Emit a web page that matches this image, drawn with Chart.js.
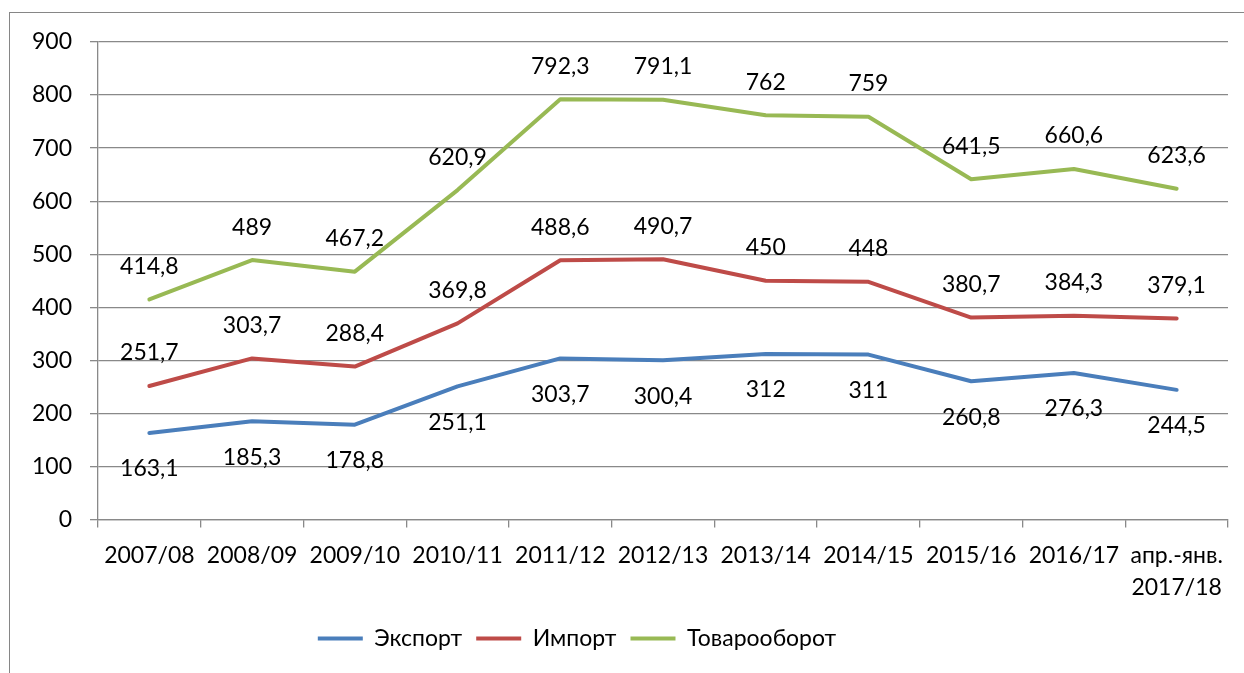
<!DOCTYPE html>
<html>
<head>
<meta charset="utf-8">
<script src="https://cdn.jsdelivr.net/npm/chart.js@4"></script>
<style>
  html, body { margin: 0; padding: 0; background: #fff; overflow: hidden; }
  #wrap { position: relative; width: 1244px; height: 673px; overflow: hidden; }
  #frame { position: absolute; left: 9px; top: 12px; width: 1400px; height: 800px; border: 1.5px solid #868686; }
  #chart { position: absolute; left: 0; top: 0; }
</style>
</head>
<body>
<div id="wrap">
  <div id="frame"></div>
  <canvas id="chart" width="1244" height="690"></canvas>
</div>
<script>
// data
const categories = ['2007/08', '2008/09', '2009/10', '2010/11', '2011/12', '2012/13',
  '2013/14', '2014/15', '2015/16', '2016/17', ['апр.-янв.', '2017/18']];
const exportValues = [163.1, 185.3, 178.8, 251.1, 303.7, 300.4, 312, 311, 260.8, 276.3, 244.5];
const importValues = [251.7, 303.7, 288.4, 369.8, 488.6, 490.7, 450, 448, 380.7, 384.3, 379.1];
const turnoverValues = [414.8, 489, 467.2, 620.9, 792.3, 791.1, 762, 759, 641.5, 660.6, 623.6];
const seriesNames = ['Экспорт', 'Импорт', 'Товарооборот'];
const yTicks = [0, 100, 200, 300, 400, 500, 600, 700, 800, 900];

const FONT = 'Lato, "Open Sans", sans-serif';
Chart.defaults.font.family = FONT;
Chart.defaults.font.size = 23;
Chart.defaults.color = '#000';

// value labels: export below the line, the others above
const labelOffsets = [36, -33, -33];
const valueLabels = {
  id: 'valueLabels',
  afterDatasetsDraw(chart) {
    const ctx = chart.ctx;
    ctx.save();
    ctx.font = '23px ' + FONT;
    ctx.fillStyle = '#000';
    ctx.textAlign = 'center';
    ctx.textBaseline = 'middle';
    chart.data.datasets.forEach((ds, i) => {
      const meta = chart.getDatasetMeta(i);
      meta.data.forEach((pt, j) => {
        const txt = String(ds.data[j]).replace('.', ',');
        ctx.fillText(txt, pt.x, pt.y + labelOffsets[i]);
      });
    });
    ctx.restore();
  }
};

// legend sits centred under the chart frame, not the whole canvas
const legendShift = {
  id: 'legendShift',
  afterLayout(chart) {
    const lg = chart.legend;
    const w = lg.right - lg.left;
    lg.left = 577 - w / 2;
    lg.right = 577 + w / 2;
    lg.top -= 3;
    lg.bottom -= 3;
  }
};

const colors = ['#4A7EBB', '#BE4B48', '#98B954'];
const seriesData = [exportValues, importValues, turnoverValues];

new Chart(document.getElementById('chart'), {
  type: 'line',
  data: {
    labels: categories,
    datasets: seriesData.map((d, i) => ({
      label: seriesNames[i],
      data: d,
      borderColor: colors[i],
      backgroundColor: colors[i],
      borderWidth: 4,
      borderCapStyle: 'round',
      borderJoinStyle: 'round',
      pointRadius: 0,
      tension: 0
    }))
  },
  options: {
    responsive: false,
    animation: false,
    layout: { padding: { left: 32, right: 16, top: 42, bottom: 27 } },
    plugins: {
      tooltip: { enabled: false },
      legend: {
        position: 'bottom',
        labels: {
          usePointStyle: true,
          pointStyle: 'line',
          pointStyleWidth: 45,
          padding: 14,
          font: { size: 23 }
        }
      }
    },
    scales: {
      x: {
        offset: true,
        grid: {
          offset: true,
          drawOnChartArea: false,
          drawTicks: true,
          tickLength: 8,
          color: '#898989',
          lineWidth: 1.3
        },
        border: { color: '#898989', width: 1.3 },
        ticks: { padding: 12, maxRotation: 0, autoSkip: false, font: { size: 23, lineHeight: 1.4 } }
      },
      y: {
        min: 0,
        max: 900,
        afterBuildTicks(scale) { scale.ticks = yTicks.map(v => ({ value: v })); },
        afterFit(scale) { scale.width = 66; },
        grid: { color: '#898989', lineWidth: 1.3, tickLength: 8 },
        border: { color: '#898989', width: 1.3 },
        ticks: { padding: 18, font: { size: 23 } }
      }
    }
  },
  plugins: [valueLabels, legendShift]
});
</script>
</body>
</html>
